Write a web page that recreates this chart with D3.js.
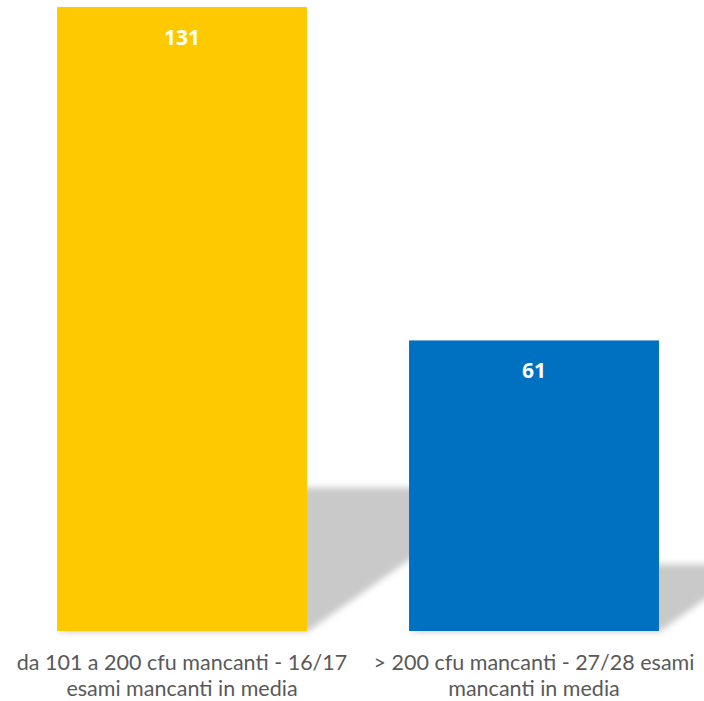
<!DOCTYPE html>
<html><head><meta charset="utf-8">
<script src="https://cdn.jsdelivr.net/npm/d3@7"></script>
<style>body{margin:0;background:#fff}svg{display:block}</style>
</head><body>
<script>
const categories = [
  ["da 101 a 200 cfu mancanti - 16/17", "esami mancanti in media"],
  ["> 200 cfu mancanti - 27/28 esami", "mancanti in media"]
];
const values = [131, 61];
const colors = ["#FFC900", "#0070C0"];

const W = 704, H = 701;
const svg = d3.select("body").append("svg").attr("width", W).attr("height", H);
const defs = svg.append("defs");
const f = defs.append("filter").attr("id","blur").attr("x","-20%").attr("y","-20%").attr("width","140%").attr("height","140%");
f.append("feGaussianBlur").attr("stdDeviation", 3);

const x = d3.scaleBand().domain(d3.range(values.length)).range([6, 710]).paddingInner(0.29).paddingOuter(0.145);
const y = d3.scaleLinear().domain([0, 131]).range([631, 7]);

// perspective shadows
const shadowG = svg.append("g").attr("filter","url(#blur)");
values.forEach((v, i) => {
  const x0 = x(i), x1 = x(i) + x.bandwidth(), B = y(0);
  const h = y(0) - y(v);
  const sh = 0.23 * h, d = sh / 0.7;
  shadowG.append("polygon")
    .attr("points", [[x0, B + 1], [x1, B + 1], [x1 + d, B - sh], [x0 + d, B - sh]].map(p => p.join(",")).join(" "))
    .attr("fill", "#c9c9c9");
});

// bars
svg.append("g").selectAll("rect").data(values).join("rect")
  .attr("x", (d, i) => x(i)).attr("y", d => y(d))
  .attr("width", x.bandwidth()).attr("height", d => y(0) - y(d))
  .attr("fill", (d, i) => colors[i]);

// value labels
svg.append("g").selectAll("text").data(values).join("text")
  .attr("x", (d, i) => x(i) + x.bandwidth() / 2)
  .attr("y", d => y(d) + 38)
  .attr("text-anchor", "middle")
  .attr("font-family", "Open Sans, sans-serif")
  .attr("font-weight", "bold").attr("font-size", 21)
  .attr("fill", "#fff")
  .text(d => d);

// category labels
const cg = svg.append("g");
categories.forEach((lines, i) => {
  const t = cg.append("text")
    .attr("x", x(i) + x.bandwidth() / 2)
    .attr("y", 670)
    .attr("text-anchor", "middle")
    .attr("font-family", "Lato, sans-serif")
    .attr("font-size", 21.5)
    .attr("fill", "#595959");
  lines.forEach((l, j) => {
    t.append("tspan").attr("x", x(i) + x.bandwidth() / 2).attr("dy", j ? 26 : 0).text(l);
  });
});
</script>
</body></html>
